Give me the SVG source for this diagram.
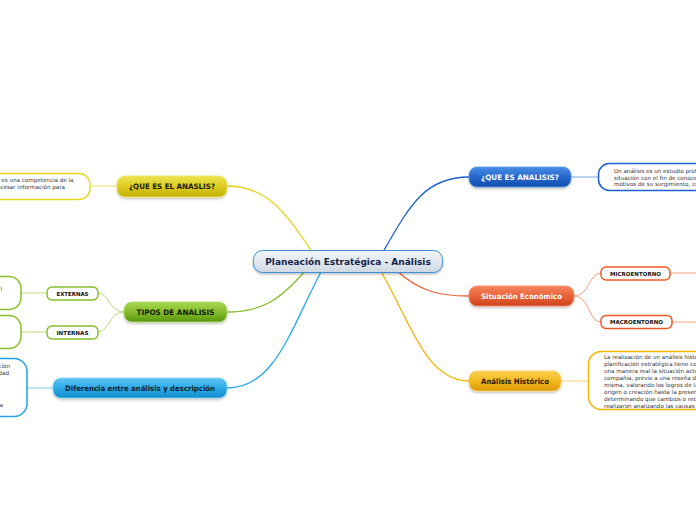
<svg xmlns="http://www.w3.org/2000/svg" width="696" height="520" viewBox="0 0 696 520">
<defs>
<linearGradient id="gCenter" x1="0" y1="0" x2="0" y2="1"><stop offset="0" stop-color="#f4f7fa"/><stop offset="1" stop-color="#cfd8e2"/></linearGradient>
<linearGradient id="gBlue" x1="0" y1="0" x2="0" y2="1"><stop offset="0" stop-color="#4a8ce6"/><stop offset="0.5" stop-color="#2667cc"/><stop offset="1" stop-color="#1150ae"/></linearGradient>
<linearGradient id="gOrange" x1="0" y1="0" x2="0" y2="1"><stop offset="0" stop-color="#f5865e"/><stop offset="0.5" stop-color="#ea6238"/><stop offset="1" stop-color="#cc4418"/></linearGradient>
<linearGradient id="gGold" x1="0" y1="0" x2="0" y2="1"><stop offset="0" stop-color="#fbd050"/><stop offset="0.5" stop-color="#f3b820"/><stop offset="1" stop-color="#dc9800"/></linearGradient>
<linearGradient id="gYellow" x1="0" y1="0" x2="0" y2="1"><stop offset="0" stop-color="#efe250"/><stop offset="0.5" stop-color="#dccc22"/><stop offset="1" stop-color="#c2b000"/></linearGradient>
<linearGradient id="gGreen" x1="0" y1="0" x2="0" y2="1"><stop offset="0" stop-color="#a8d850"/><stop offset="0.5" stop-color="#84bc2c"/><stop offset="1" stop-color="#5a960e"/></linearGradient>
<linearGradient id="gSky" x1="0" y1="0" x2="0" y2="1"><stop offset="0" stop-color="#5ec6f4"/><stop offset="0.5" stop-color="#2eaae8"/><stop offset="1" stop-color="#108ccc"/></linearGradient>
<filter id="sh" x="-10%" y="-30%" width="120%" height="170%"><feDropShadow dx="0" dy="1.5" stdDeviation="1" flood-color="#000" flood-opacity="0.25"/></filter>
</defs>
<style>
.lbl{font-family:"DejaVu Sans","Verdana",sans-serif;font-weight:bold;text-anchor:middle;dominant-baseline:central}
.big{font-size:7.5px}
.sm{font-size:5.5px;fill:#111}
.body{font-family:"DejaVu Sans","Verdana",sans-serif;font-size:5.6px;fill:#333}
.conn path{fill:none;stroke-linecap:round}
.box{fill:#fff;stroke-width:1.5}
</style>
<g id="connectors" class="conn">
<path d="M383,252 C410,205 425,177 469,177" stroke="#1a5fd0" stroke-width="1.3"/>
<path d="M396,270 C420,292 440,296 469,296" stroke="#ee6238" stroke-width="1.3"/>
<path d="M380,270 C410,320 425,381 469,381" stroke="#f6b400" stroke-width="1.3"/>
<path d="M312,252 C285,210 265,186 227,186" stroke="#e6d420" stroke-width="1.3"/>
<path d="M306,270 C280,300 262,312 227,312" stroke="#86c02c" stroke-width="1.3"/>
<path d="M322,270 C290,330 275,388 227,388" stroke="#2aaaee" stroke-width="1.3"/>
<path d="M571,177 L598,177" stroke="#7aa8e8" stroke-width="1"/>
<path d="M574,296 C590,296 588,273 601,273" stroke="#f5a080" stroke-width="1"/>
<path d="M574,296 C590,296 588,322 601,322" stroke="#f5a080" stroke-width="1"/>
<path d="M670,273 L696,273" stroke="#f5a080" stroke-width="1"/>
<path d="M672,322 L696,322" stroke="#f5a080" stroke-width="1"/>
<path d="M561,381 L588,381" stroke="#f8d070" stroke-width="1"/>
<path d="M117,186 L90,186" stroke="#eee070" stroke-width="1"/>
<path d="M124,312 C108,312 110,293 98,293" stroke="#b8dc80" stroke-width="1"/>
<path d="M124,312 C108,312 110,332 98,332" stroke="#b8dc80" stroke-width="1"/>
<path d="M47,293 L21,293" stroke="#b8dc80" stroke-width="1"/>
<path d="M47,332 L21,332" stroke="#b8dc80" stroke-width="1"/>
<path d="M53,388 L27,388" stroke="#80ccf4" stroke-width="1"/>
</g>
<g id="central">
<rect x="253.5" y="250.5" width="189" height="22" rx="9" fill="url(#gCenter)" stroke="#3d92dc" stroke-width="1" filter="url(#sh)"/>
<text class="lbl" x="348" y="261.5" font-size="9" fill="#14234a">Planeación Estratégica - Análisis</text>
</g>
<g id="que-es-analisis">
<rect x="469" y="167" width="102" height="20" rx="8" fill="url(#gBlue)" stroke="#5b9ce8" stroke-width="0.8" filter="url(#sh)"/>
<text class="lbl big" x="520" y="177" fill="#fff" textLength="78" lengthAdjust="spacingAndGlyphs">¿QUE ES ANALISIS?</text>
</g>
<g id="que-es-analisis-texto">
<rect class="box" x="598.5" y="163.5" width="120" height="27" rx="11" stroke="#1c5fd2"/>
<text class="body" x="614" y="173">Un análisis es un estudio prof</text>
<text class="body" x="614" y="179.5">situación con el fin de conoce</text>
<text class="body" x="614" y="186">motivos de su surgimiento, cr</text>
</g>
<g id="situacion">
<rect x="469" y="286" width="105" height="20" rx="8" fill="url(#gOrange)" stroke="#f59070" stroke-width="0.8" filter="url(#sh)"/>
<text class="lbl big" x="521.5" y="296" fill="#fff" textLength="81" lengthAdjust="spacingAndGlyphs">Situación Económico</text>
</g>
<g id="microentorno">
<rect class="box" x="601" y="267" width="69" height="13" rx="5" stroke="#f05a28"/>
<text class="lbl sm" x="635.5" y="273.5" textLength="51" lengthAdjust="spacingAndGlyphs">MICROENTORNO</text>
</g>
<g id="macroentorno">
<rect class="box" x="601" y="315.5" width="71" height="13" rx="5" stroke="#f05a28"/>
<text class="lbl sm" x="636.5" y="322" textLength="53" lengthAdjust="spacingAndGlyphs">MACROENTORNO</text>
</g>
<g id="historico">
<rect x="469" y="371" width="92" height="20" rx="8" fill="url(#gGold)" stroke="#fbd060" stroke-width="0.8" filter="url(#sh)"/>
<text class="lbl big" x="515" y="381" fill="#2a1800" textLength="68" lengthAdjust="spacingAndGlyphs">Análisis Histórico</text>
</g>
<g id="historico-texto">
<rect class="box" x="588.5" y="351.5" width="130" height="58" rx="13" stroke="#f4b400"/>
<text class="body" x="604" y="358.5">La realización de un análisis histó</text>
<text class="body" x="604" y="365.5">planificación estratégica tiene cor</text>
<text class="body" x="604" y="372.5">una manera real la situación actu</text>
<text class="body" x="604" y="379.5">compañía, previo a una reseña de</text>
<text class="body" x="604" y="386.5">misma, valorando los logros de la</text>
<text class="body" x="604" y="393.5">origen o creación hasta la presen</text>
<text class="body" x="604" y="400.5">determinando que cambios o retr</text>
<text class="body" x="604" y="407.5">realizaron analizando las causas y</text>
</g>
<g id="que-es-el-anaslis">
<rect x="117" y="176" width="110" height="21" rx="8" fill="url(#gYellow)" stroke="#f0e468" stroke-width="0.8" filter="url(#sh)"/>
<text class="lbl big" x="172" y="186.5" fill="#1a1a00" textLength="86" lengthAdjust="spacingAndGlyphs">¿QUE ES EL ANASLIS?</text>
</g>
<g id="que-es-el-anaslis-texto">
<rect class="box" x="-40" y="173.5" width="130" height="26" rx="11" stroke="#e8d820"/>
<text class="body" x="73.5" y="182" text-anchor="end">s es una competencia de la</text>
<text class="body" x="65" y="188.5" text-anchor="end">ocesar información para</text>
</g>
<g id="tipos">
<rect x="124" y="302" width="103" height="20" rx="8" fill="url(#gGreen)" stroke="#b0dc70" stroke-width="0.8" filter="url(#sh)"/>
<text class="lbl big" x="175.5" y="312" fill="#0e1a00" textLength="78" lengthAdjust="spacingAndGlyphs">TIPOS DE ANALISIS</text>
</g>
<g id="externas">
<rect class="box" x="47" y="287" width="51" height="13" rx="5" stroke="#86c02c"/>
<text class="lbl sm" x="72.5" y="293.5" textLength="32" lengthAdjust="spacingAndGlyphs">EXTERNAS</text>
</g>
<g id="internas">
<rect class="box" x="47" y="326" width="51" height="13" rx="5" stroke="#86c02c"/>
<text class="lbl sm" x="72.5" y="332.5" textLength="32" lengthAdjust="spacingAndGlyphs">INTERNAS</text>
</g>
<g id="externas-texto">
<rect class="box" x="-40" y="276.5" width="61" height="33" rx="12" stroke="#86c02c"/>
<text class="body" x="2" y="291" text-anchor="end" fill="#999">l</text>
</g>
<g id="internas-texto">
<rect class="box" x="-40" y="315.5" width="61" height="33" rx="12" stroke="#86c02c"/>
</g>
<g id="diferencia">
<rect x="53" y="378" width="174" height="20" rx="8" fill="url(#gSky)" stroke="#8ad4f8" stroke-width="0.8" filter="url(#sh)"/>
<text class="lbl big" x="140" y="388" fill="#0a1e30" textLength="150" lengthAdjust="spacingAndGlyphs">Diferencia entre análisis y descripción</text>
</g>
<g id="diferencia-texto">
<rect class="box" x="-40" y="358.5" width="67" height="58" rx="13" stroke="#1ea2ea"/>
<text class="body" x="10" y="368" text-anchor="end">ción</text>
<text class="body" x="9" y="374.5" text-anchor="end">dad</text>
<text class="body" x="3" y="407" text-anchor="end">a</text>
</g>
</svg>
